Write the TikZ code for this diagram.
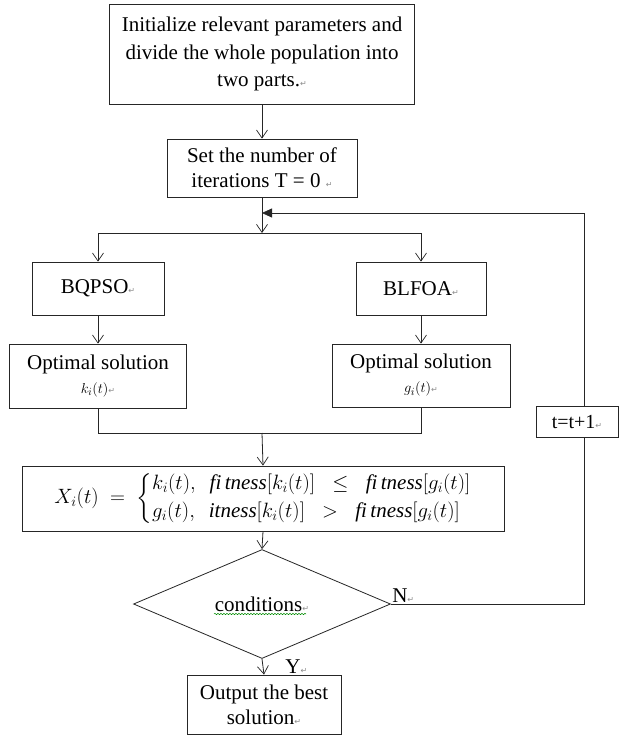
\documentclass[tikz,border=0pt]{standalone}
\usepackage{amsmath}
\usepackage{fontspec}
\setmainfont{Liberation Serif}
\newfontfamily\djv{DejaVu Sans}
\usetikzlibrary{shapes.geometric,arrows.meta,decorations.pathmorphing}
\newcommand{\parmark}{{\color{black!45}\djv\fontsize{8}{8}\selectfont ↵}}
\begin{document}
\begin{tikzpicture}[x=1pt,y=-1pt,line width=0.8pt,draw=black!85,
  box/.style={draw,inner sep=0pt,align=center,font=\fontsize{21}{27.5}\selectfont},
  lab/.style={font=\fontsize{21}{22}\selectfont,inner sep=1pt},
  arr/.style={-{Straight Barb[length=8pt,width=11pt,line width=0.7pt]}},
  farr/.style={-{Triangle[length=10pt,width=9pt]}}]
\useasboundingbox (0,0) rectangle (620,736);
\fill[white] (0,0) rectangle (620,736);

\node[box,minimum width=305pt,minimum height=100pt] (init) at (262,54)
  {Initialize relevant parameters and\\divide the whole population into\\two parts.\parmark};
\node[box,minimum width=190pt,minimum height=58pt,font=\fontsize{21}{25}\selectfont] (set) at (262,168)
  {Set the number of\\iterations T = 0 \parmark};
\node[box,minimum width=132pt,minimum height=53pt] (bq) at (98,288.5) {BQPSO\parmark};
\node[box,minimum width=130pt,minimum height=53pt] (bl) at (421,288.5) {BLFOA\parmark};
\node[box,minimum width=177pt,minimum height=64pt,font=\fontsize{21}{24}\selectfont] (optL) at (98,376)
  {Optimal solution\\{\fontsize{15}{18}\selectfont$k_i(t)$\parmark}};
\node[box,minimum width=178pt,minimum height=63pt,font=\fontsize{21}{24}\selectfont] (optR) at (421,375.5)
  {Optimal solution\\{\fontsize{15}{18}\selectfont$g_i(t)$\parmark}};
\node[box,minimum width=482pt,minimum height=65pt,font=\fontsize{21}{24}\selectfont] (X) at (263,498.5)
  {$X_i(t) \;=\; \left\{\begin{array}{@{}l@{}} k_i(t),\ \ \mathit{fi\,tness}[k_i(t)] \;\;\le\;\; \mathit{fi\,tness}[g_i(t)]\\[4pt] g_i(t),\ \ \mathit{itness}[k_i(t)] \;\;>\;\; \mathit{fi\,tness}[g_i(t)]\end{array}\right.$};
\node[draw,diamond,inner sep=0pt,minimum width=257pt,minimum height=88pt,font=\fontsize{21}{27}\selectfont] (cond) at (262,604) {conditions\parmark};
\node[box,minimum width=154pt,minimum height=59pt,font=\fontsize{21}{25}\selectfont] (out) at (264,704.5)
  {Output the best\\solution\parmark};
\node[box,minimum width=82pt,minimum height=31pt,font=\fontsize{20}{22}\selectfont] (tinc) at (577,421.5) {t=t+1\parmark};

\coordinate (split) at (262,233);
\coordinate (join) at (262,433);
\coordinate (c1) at (584,604);
\coordinate (c2) at (584,213);
\coordinate (loopend) at (262,213);

\draw[arr] (init.south) -- (set.north);
\draw[arr] (set.south) -- (split);
\draw (split -| bq) -- (split -| bl);
\draw[arr] (split -| bq) -- (bq.north);
\draw[arr] (split -| bl) -- (bl.north);
\draw[arr] (bq.south) -- (optL.north);
\draw[arr] (bl.south) -- (optR.north);
\draw (optL.south) -- (optL.south |- join) -- (optR.south |- join) -- (optR.south);
\draw[arr] (join) -- (X.north);
\draw[arr] (X.south) -- (cond.north);
\draw[arr] (cond.south) -- (out.north);
\draw (cond.east) -- (c1) -- (c1 |- tinc.south);
\draw[farr] (c2 |- tinc.north) -- (c2) -- (loopend);

\node[lab,anchor=south west] (nlab) at (cond.east) {N\parmark};
\node[lab,anchor=south west] (ylab) at ([xshift=20pt]out.north) {Y\parmark};
\draw[green!55!black,line width=0.5pt,decorate,decoration={snake,amplitude=0.7pt,segment length=3pt}]
  ([xshift=-48pt,yshift=-10pt]cond.center) -- ([xshift=44pt,yshift=-10pt]cond.center);
\end{tikzpicture}
\end{document}
